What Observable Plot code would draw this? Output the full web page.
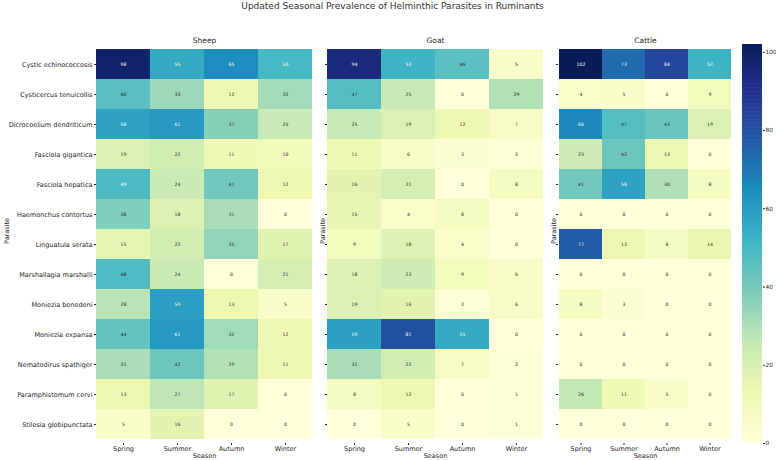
<!DOCTYPE html>
<html>
<head>
<meta charset="utf-8">
<script src="https://cdn.jsdelivr.net/npm/d3@7"></script>
<script src="https://cdn.jsdelivr.net/npm/@observablehq/plot@0.6"></script>
<style>
  html, body { margin: 0; padding: 0; background: #fff; }
  #root { position: relative; width: 777px; height: 460px; font-family: "DejaVu Sans", sans-serif; color: #262626; }
  #root > .panel { position: absolute; top: 0; }
  #title { position: absolute; top: 0; left: 0; width: 785px; text-align: center; font-size: 9px; line-height: 12px; color: #333; }
</style>
</head>
<body>
<div id="root"><div id="title">Updated Seasonal Prevalence of Helminthic Parasites in Ruminants</div></div>
<script>
const seasons = ["Spring", "Summer", "Autumn", "Winter"];
const parasites = [
  "Cystic echinococcosis", "Cysticercus tenuicollis", "Dicrocoelium dendriticum",
  "Fasciola gigantica", "Fasciola hepatica", "Haemonchus contortus", "Linguatula serata",
  "Marshallagia marshalli", "Moniezia benedeni", "Moniezia expansa",
  "Nematodirus spathiger", "Paramphistomum cervi", "Stilesia globipunctata"
];
const sheep = [
  [98, 55, 65, 50], [46, 33, 12, 32], [58, 61, 37, 25], [19, 22, 11, 10],
  [49, 24, 41, 12], [38, 18, 31, 0], [15, 22, 35, 17], [48, 24, 0, 21],
  [28, 59, 13, 5], [44, 61, 32, 12], [31, 42, 29, 11], [13, 27, 17, 0], [5, 16, 0, 0]
];
const goat = [
  [94, 52, 46, 5], [47, 25, 0, 29], [25, 19, 12, 7], [11, 6, 3, 2],
  [16, 21, 0, 8], [15, 4, 8, 0], [9, 18, 4, 0], [18, 23, 9, 6],
  [19, 16, 2, 6], [59, 81, 55, 0], [31, 22, 7, 2], [8, 12, 0, 1], [0, 5, 0, 1]
];
const cattle = [
  [102, 73, 84, 52], [4, 5, 0, 9], [66, 47, 43, 19], [23, 42, 13, 0],
  [41, 58, 30, 8], [0, 0, 0, 0], [77, 13, 8, 14], [0, 0, 0, 0],
  [8, 3, 0, 0], [0, 0, 0, 0], [0, 0, 0, 0], [26, 11, 5, 0], [0, 0, 0, 0]
];
const animals = ["Sheep", "Goat", "Cattle"];
const colorTicks = [0, 20, 40, 60, 80, 100];

const tables = [sheep, goat, cattle];
const vmax = d3.max(tables.flat(2));
const ylgnbu = d3.piecewise(d3.interpolateRgb, d3.schemeYlGnBu[9]);
const colorScale = {type: "linear", domain: [0, vmax], interpolate: ylgnbu};

function luminance(v) {
  const c = d3.rgb(ylgnbu(v / vmax));
  const f = x => { x /= 255; return x <= 0.03928 ? x / 12.92 : Math.pow((x + 0.055) / 1.055, 2.4); };
  return 0.2126 * f(c.r) + 0.7152 * f(c.g) + 0.0722 * f(c.b);
}
function toRows(vals) {
  return parasites.flatMap((p, i) => seasons.map((s, j) => ({parasite: p, season: s, value: vals[i][j]})));
}

const root = document.getElementById("root");
const TOP = 44, BOTTOM = 17, H = 460;
const layout = [
  {left: 0, width: 316, ml: 96},
  {left: 316, width: 231, ml: 11},
  {left: 547, width: 189, ml: 11}
];
const font = 6.5;

tables.forEach((vals, k) => {
  const data = toRows(vals);
  const L = layout[k];
  const chart = Plot.plot({
    width: L.width, height: H,
    marginLeft: L.ml, marginRight: 4, marginTop: TOP, marginBottom: BOTTOM,
    style: {fontFamily: "DejaVu Sans, sans-serif", color: "#262626", background: "transparent"},
    x: {type: "band", domain: seasons, padding: 0},
    y: {type: "band", domain: parasites, padding: 0},
    color: colorScale,
    marks: [
      Plot.cell(data, {x: "season", y: "parasite", fill: "value", inset: 0}),
      Plot.text(data.filter(d => luminance(d.value) > 0.408), {x: "season", y: "parasite", text: d => String(d.value), fill: "#262626", fontSize: 4.6}),
      Plot.text(data.filter(d => luminance(d.value) <= 0.408), {x: "season", y: "parasite", text: d => String(d.value), fill: "white", fontSize: 4.6}),
      Plot.axisX({anchor: "bottom", tickSize: 2, tickPadding: 1, fontSize: font, label: null}),
      Plot.axisY({anchor: "left", tickSize: 2, tickPadding: 2, fontSize: font, label: null,
                  tickFormat: k === 0 ? d => d : () => ""}),
      Plot.text([animals[k]], {frameAnchor: "top", dy: -7, fontSize: 7.5, fill: "#262626"}),
      Plot.text(["Season"], {frameAnchor: "bottom", dy: 14, fontSize: font, fill: "#262626"}),
      Plot.text(["Parasite"], {frameAnchor: "left", dx: -(L.ml - 6), rotate: -90, fontSize: font, fill: "#262626"})
    ]
  });
  chart.classList.add("panel");
  chart.style.left = L.left + "px";
  root.appendChild(chart);
});

// colour bar
const step = vmax / 300;
const bar = Plot.plot({
  width: 41, height: H,
  marginLeft: 7, marginRight: 14, marginTop: TOP, marginBottom: BOTTOM,
  style: {fontFamily: "DejaVu Sans, sans-serif", color: "#262626", background: "transparent"},
  x: {domain: [0, 1], axis: null},
  y: {domain: [0, vmax]},
  color: colorScale,
  marks: [
    Plot.rect(d3.range(0, vmax, step), {x1: 0, x2: 1, y1: d => d, y2: d => Math.min(vmax, d + step * 1.5), fill: d => d + step / 2}),
    Plot.axisY({anchor: "right", ticks: colorTicks, tickSize: 2, tickPadding: 1, fontSize: 5.8, label: null})
  ]
});
bar.classList.add("panel");
bar.style.left = "735px";
root.appendChild(bar);
</script>
</body>
</html>
